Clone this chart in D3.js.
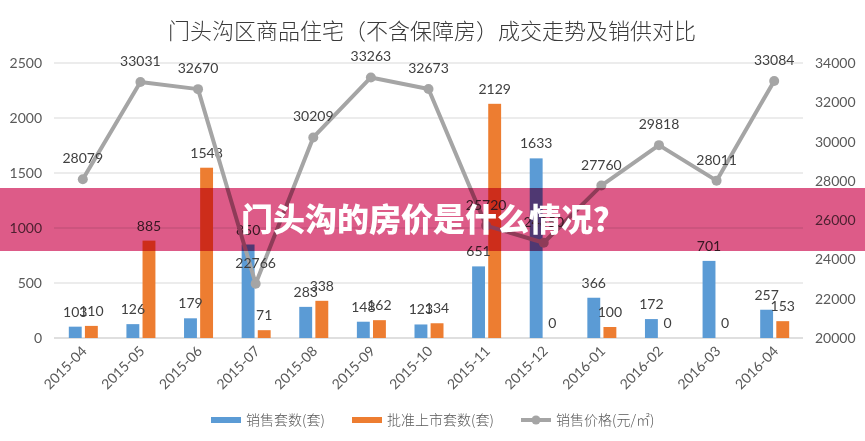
<!DOCTYPE html>
<html><head><meta charset="utf-8">
<script src="https://cdn.jsdelivr.net/npm/d3@7"></script>
<style>
body{margin:0;background:#fff;}
svg text{font-family:"Lato","Noto Sans CJK SC",sans-serif;}
</style></head>
<body><svg id="c" width="865" height="441"></svg>
<script>
const categories=["2015-04","2015-05","2015-06","2015-07","2015-08","2015-09","2015-10","2015-11","2015-12","2016-01","2016-02","2016-03","2016-04"];
const salesUnits=[103,126,179,850,283,148,123,651,1633,366,172,701,257];
const approvedUnits=[110,885,1548,71,338,162,134,2129,0,100,0,0,153];
const salesPrice=[28079,33031,32670,22766,30209,33263,32673,25720,24850,27760,29818,28011,33084];
const leftTicks=[0,500,1000,1500,2000,2500];
const rightTicks=[20000,22000,24000,26000,28000,30000,32000,34000];
const seriesNames=["销售套数(套)","批准上市套数(套)","销售价格(元/㎡)"];
const title="门头沟区商品住宅（不含保障房）成交走势及销供对比";
const bannerText="门头沟的房价是什么情况？";

const svg=d3.select("#c");
const L=54,R=803,T=63,B=338;
const x=d3.scaleBand().domain(categories).range([L,R]);
const xs=d3.scaleBand().domain([0,1]).range([x.bandwidth()/2-14,x.bandwidth()/2+15]).paddingInner(0.2);
const yL=d3.scaleLinear().domain([0,2500]).range([B,T]);
const yR=d3.scaleLinear().domain([20000,34000]).range([B,T]);
const blue="#5b9bd5",orange="#ed7d31",gray="#a5a5a5",txt="#404040";

svg.append("text").attr("x",432).attr("y",39).attr("text-anchor","middle")
  .style("font-family","'Noto Sans CJK SC'").style("font-weight",300).style("font-size","22px").attr("fill","#3a3a3a").text(title);

// gridlines
svg.append("g").selectAll("line").data(leftTicks).join("line")
  .attr("x1",L).attr("x2",R).attr("y1",d=>yL(d)).attr("y2",d=>yL(d))
  .attr("stroke",d=>d===0?"#bfbfbf":"#d9d9d9").attr("stroke-width",1);

// left axis
const gl=svg.append("g").attr("transform",`translate(${L},0)`).call(d3.axisLeft(yL).tickValues(leftTicks).tickFormat(d3.format("d")).tickSize(0).tickPadding(12));
gl.select(".domain").remove();
gl.selectAll("text").style("font-size","14px").attr("fill","#595959").style("font-family","Lato");
// right axis
const gr=svg.append("g").attr("transform",`translate(${R},0)`).call(d3.axisRight(yR).tickValues(rightTicks).tickFormat(d3.format("d")).tickSize(0).tickPadding(12));
gr.select(".domain").remove();
gr.selectAll("text").style("font-size","14px").attr("fill","#595959").style("font-family","Lato");

// x axis labels
const gx=svg.append("g").attr("transform",`translate(0,${B})`).call(d3.axisBottom(x).tickSize(0).tickPadding(0));
gx.select(".domain").remove();
gx.selectAll("text").attr("text-anchor","end").attr("dy",0).attr("dx",0)
  .attr("transform","translate(5,14) rotate(-45)")
  .style("font-size","14px").attr("fill","#595959").style("font-family","Lato");

// bars
const groups=svg.append("g").selectAll("g").data(categories).join("g").attr("transform",d=>`translate(${x(d)},0)`);
groups.append("rect").attr("x",xs(0)).attr("width",xs.bandwidth()).attr("y",(d,i)=>yL(salesUnits[i])).attr("height",(d,i)=>B-yL(salesUnits[i])).attr("fill",blue);
groups.append("rect").attr("x",xs(1)).attr("width",xs.bandwidth()).attr("y",(d,i)=>yL(approvedUnits[i])).attr("height",(d,i)=>B-yL(approvedUnits[i])).attr("fill",orange);
groups.append("text").attr("x",xs(0)+xs.bandwidth()/2).attr("y",(d,i)=>yL(salesUnits[i])-10).attr("text-anchor","middle")
  .style("font-size","14px").attr("fill",txt).text((d,i)=>salesUnits[i]);
groups.append("text").attr("x",xs(1)+xs.bandwidth()/2).attr("y",(d,i)=>yL(approvedUnits[i])-10).attr("text-anchor","middle")
  .style("font-size","14px").attr("fill",txt).text((d,i)=>approvedUnits[i]);

// line
const cx=d=>x(d)+x.bandwidth()/2;
const line=d3.line().x((d,i)=>cx(categories[i])).y(d=>yR(d));
svg.append("path").datum(salesPrice).attr("d",line).attr("fill","none").attr("stroke",gray).attr("stroke-width",4).attr("stroke-linejoin","round");
svg.append("g").selectAll("circle").data(salesPrice).join("circle")
  .attr("cx",(d,i)=>cx(categories[i])).attr("cy",d=>yR(d)).attr("r",5).attr("fill",gray);
svg.append("g").selectAll("text").data(salesPrice).join("text")
  .attr("x",(d,i)=>cx(categories[i])).attr("y",d=>yR(d)-16).attr("text-anchor","middle")
  .style("font-size","14px").attr("fill",txt).text(d=>d);

// legend
const lg=svg.append("g").attr("transform","translate(0,420)");
lg.append("rect").attr("x",211).attr("y",-3).attr("width",30).attr("height",6).attr("fill",blue);
lg.append("text").attr("x",246).attr("y",5).style("font-size","14px").attr("fill","#595959").style("font-family","'Noto Sans CJK SC'").style("font-weight",300).text(seriesNames[0]);
lg.append("rect").attr("x",352).attr("y",-3).attr("width",30).attr("height",6).attr("fill",orange);
lg.append("text").attr("x",387).attr("y",5).style("font-size","14px").attr("fill","#595959").style("font-family","'Noto Sans CJK SC'").style("font-weight",300).text(seriesNames[1]);
lg.append("line").attr("x1",521).attr("x2",551).attr("y1",0).attr("y2",0).attr("stroke",gray).attr("stroke-width",4);
lg.append("circle").attr("cx",536).attr("cy",0).attr("r",4.5).attr("fill",gray);
lg.append("text").attr("x",556).attr("y",5).style("font-size","14px").attr("fill","#595959").style("font-family","'Noto Sans CJK SC'").style("font-weight",300).text(seriesNames[2]);

// banner overlay
svg.append("rect").attr("x",0).attr("y",188).attr("width",865).attr("height",63).attr("fill","#dd5b88").style("mix-blend-mode","multiply");
svg.append("text").attr("x",433).attr("y",231).attr("text-anchor","middle").attr("fill","#fff")
  .style("font-family","'Noto Sans CJK SC'").style("font-weight",900).style("font-size","32px").text(bannerText);
</script></body></html>
